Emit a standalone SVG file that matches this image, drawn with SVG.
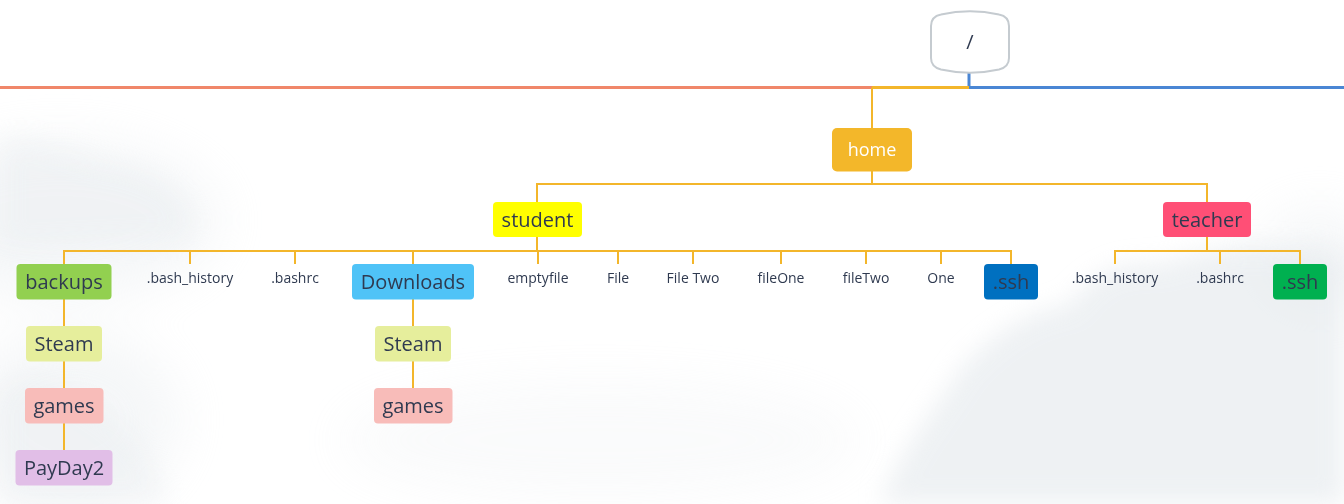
<svg xmlns="http://www.w3.org/2000/svg" width="1344" height="504" viewBox="0 0 1344 504">
<defs>
<style>
.bg{fill:#e3e8ec}
.c{stroke:#f3b62b;stroke-width:2;fill:none}
.t{font-family:"Open Sans","Liberation Sans",sans-serif;font-size:20px;fill:#2f3a50;text-anchor:middle}
.s{font-family:"Open Sans","Liberation Sans",sans-serif;font-size:14px;fill:#2f3a50;text-anchor:middle}
</style>
<filter id="blur" x="-50%" y="-50%" width="200%" height="200%"><feGaussianBlur stdDeviation="25"/></filter>
<filter id="blur2" x="-50%" y="-50%" width="200%" height="200%"><feGaussianBlur stdDeviation="12"/></filter>
</defs>
<rect width="1344" height="504" fill="#ffffff"/>
<g id="background">
<g filter="url(#blur)" opacity="0.35">
<ellipse class="bg" cx="60" cy="220" rx="160" ry="80"/>
<ellipse class="bg" cx="70" cy="420" rx="110" ry="90"/>
<ellipse class="bg" cx="600" cy="440" rx="260" ry="60" opacity="0.5"/>
<ellipse class="bg" cx="1320" cy="260" rx="60" ry="50"/>
</g>
<g filter="url(#blur2)" opacity="0.6">
<path class="bg" d="M880,504 C900,450 935,410 960,370 C990,335 1030,310 1070,305 C1090,275 1120,260 1160,265 C1200,250 1250,240 1290,250 C1320,245 1335,255 1344,260 L1344,504 Z"/>
</g>
<g filter="url(#blur2)" opacity="0.3">
<path class="bg" d="M0,140 C40,130 80,160 120,165 C170,175 200,205 190,240 L0,250 Z"/>
<path class="bg" d="M0,390 C30,370 60,380 90,405 C120,420 150,450 170,504 L0,504 Z"/>
</g>
</g>
<g id="connectors">
<path d="M872,87.5 H0" stroke="#f0876a" stroke-width="3" fill="none"/>
<path d="M969,87.5 H1344" stroke="#4a86d4" stroke-width="3" fill="none"/>
<path d="M969,73 V87.5" stroke="#4a86d4" stroke-width="3" fill="none"/>
<path d="M969,87.5 H872" stroke="#f3b62b" stroke-width="3" fill="none"/>
<path class="c" d="M872,87.5 V128"/>
<path class="c" d="M872,171 V184"/>
<path class="c" d="M537,202 V184 H1207 V202"/>
<path class="c" d="M537,237 V251"/>
<path class="c" d="M64,264 V251 H1011 V264"/>
<path class="c" d="M190,251 V264 M295,251 V264 M413,251 V264 M538,251 V264 M618,251 V264 M693,251 V264 M781,251 V264 M866,251 V264 M941,251 V264"/>
<path class="c" d="M1207,237 V251"/>
<path class="c" d="M1115,264 V251 H1300 V264 M1220,251 V264"/>
<path class="c" d="M64,299 V326 M64,361 V388 M64,423 V450"/>
<path class="c" d="M413,299 V326 M413,361 V388"/>
</g>
<g id="root">
<path d="M941,14.5 Q970,8 999,14.5 Q1009,16.5 1009,26 L1009,58 Q1009,67 999,69.5 Q970,76 941,69.5 Q931,67 931,58 L931,26 Q931,16.5 941,14.5 Z" fill="#ffffff" stroke="#c5cbd0" stroke-width="2"/>
<text class="t" x="970" y="49">/</text>
</g>
<g id="home">
<rect x="832" y="128" width="80" height="43.5" rx="5" fill="#f3b72a"/>
<text class="t" x="872" y="156" style="font-size:18px;fill:#ffffff">home</text>
</g>
<g id="student">
<rect x="493" y="202" width="89" height="35" rx="4" fill="#ffff00"/>
<text class="t" x="537.5" y="226.5">student</text>
</g>
<g id="teacher">
<rect x="1163" y="202" width="88" height="35" rx="4" fill="#ff4f76"/>
<text class="t" x="1207" y="226.5">teacher</text>
</g>
<g id="backups">
<rect x="16.5" y="264" width="95" height="35.5" rx="4" fill="#92d050"/>
<text class="t" x="64" y="288.5">backups</text>
</g>
<g id="s_bash_history"><text class="s" x="190" y="283">.bash_history</text></g>
<g id="s_bashrc"><text class="s" x="295" y="283">.bashrc</text></g>
<g id="downloads">
<rect x="352" y="264" width="122" height="35.5" rx="4" fill="#4fc3f7"/>
<text class="t" x="413" y="288.5">Downloads</text>
</g>
<g id="emptyfile"><text class="s" x="538" y="283">emptyfile</text></g>
<g id="file"><text class="s" x="618" y="283">File</text></g>
<g id="file_two"><text class="s" x="693" y="283">File Two</text></g>
<g id="fileone"><text class="s" x="781" y="283">fileOne</text></g>
<g id="filetwo"><text class="s" x="866" y="283">fileTwo</text></g>
<g id="one"><text class="s" x="941" y="283">One</text></g>
<g id="s_ssh">
<rect x="984" y="264" width="54" height="35.5" rx="4" fill="#0070c0"/>
<text class="t" x="1011" y="288.5">.ssh</text>
</g>
<g id="t_bash_history"><text class="s" x="1115" y="283">.bash_history</text></g>
<g id="t_bashrc"><text class="s" x="1220" y="283">.bashrc</text></g>
<g id="t_ssh">
<rect x="1273" y="264" width="54" height="35.5" rx="4" fill="#00b050"/>
<text class="t" x="1300" y="288.5">.ssh</text>
</g>
<g id="b_steam">
<rect x="26" y="326" width="76" height="35.5" rx="4" fill="#e6ee9c"/>
<text class="t" x="64" y="350.5">Steam</text>
</g>
<g id="b_games">
<rect x="25" y="388" width="78.5" height="35.5" rx="4" fill="#f8bcb9"/>
<text class="t" x="64" y="412.5">games</text>
</g>
<g id="payday2">
<rect x="15.5" y="450" width="97" height="35.5" rx="4" fill="#e1bee7"/>
<text class="t" x="64" y="474.5">PayDay2</text>
</g>
<g id="d_steam">
<rect x="375" y="326" width="76" height="35.5" rx="4" fill="#e6ee9c"/>
<text class="t" x="413" y="350.5">Steam</text>
</g>
<g id="d_games">
<rect x="374" y="388" width="78.5" height="35.5" rx="4" fill="#f8bcb9"/>
<text class="t" x="413" y="412.5">games</text>
</g>
</svg>
